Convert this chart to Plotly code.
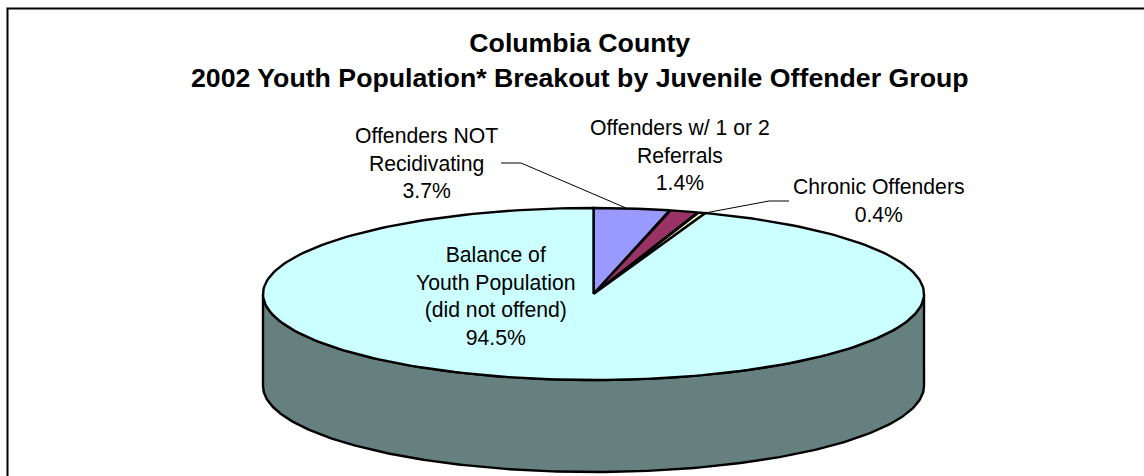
import numpy as np
import plotly.graph_objects as go

categories = ["Offenders NOT<br>Recidivating", "Offenders w/ 1 or 2<br>Referrals", "Chronic Offenders",
              "Balance of<br>Youth Population<br>(did not offend)"]
values = [3.7, 1.4, 0.4, 94.5]
colors = ["#9999FF", "#993366", "#FFFFCC", "#CCFFFF"]
wall_color = "#667F7F"
title_lines = ["Columbia County", "2002 Youth Population* Breakout by Juvenile Offender Group"]

CX, CY, RX, RY, DEPTH = 593.5, 294, 330.5, 86, 92
LW = 2.4
FONT = "Liberation Sans, Arial, sans-serif"


def rim(a0, a1, n=240):
    t = np.radians(np.linspace(a0, a1, n))
    return CX + RX * np.sin(t), CY - RY * np.cos(t)


fig = go.Figure()

# side wall (visible front half of the disc)
xf, yf = rim(90, 270)
fig.add_trace(go.Scatter(x=np.r_[xf, xf[::-1], xf[0]], y=np.r_[yf, yf[::-1] + DEPTH, yf[0]],
                         mode="lines", fill="toself", fillcolor=wall_color,
                         line=dict(color="black", width=LW), hoverinfo="skip", showlegend=False))

# top face slices, clockwise from 12 o'clock
total = sum(values)
start = 0.0
for cat, val, col in zip(categories, values, colors):
    end = start + val / total * 360
    xs, ys = rim(start, end)
    fig.add_trace(go.Scatter(x=np.r_[CX, xs, CX], y=np.r_[CY, ys, CY], mode="lines", fill="toself",
                             fillcolor=col, line=dict(color="black", width=LW),
                             name=cat.replace("<br>", " "), showlegend=False))
    start = end

# leader lines
fig.add_trace(go.Scatter(x=[501, 521, 626], y=[163, 163, 208], mode="lines",
                         line=dict(color="black", width=1), hoverinfo="skip", showlegend=False))
fig.add_trace(go.Scatter(x=[789, 769, 705], y=[201, 201, 213], mode="lines",
                         line=dict(color="black", width=1), hoverinfo="skip", showlegend=False))

# chart frame: only top and left edges are in view
fig.add_trace(go.Scatter(x=[7.5, 7.5, 1144], y=[476, 8.5, 8.5], mode="lines",
                         line=dict(color="black", width=2), hoverinfo="skip", showlegend=False))

label_pos = [(426, 163), (680, 155), (879, 200.5), (495, 295.5)]
annotations = []
for cat, val, (lx, ly) in zip(categories, values, label_pos):
    annotations.append(dict(x=lx, y=ly, xref="x", yref="y", text=f"{cat}<br>{val:.1f}%", showarrow=False,
                            align="center", xanchor="center", yanchor="middle",
                            font=dict(family=FONT, size=21.2, color="black")))
annotations.append(dict(x=580, y=60, xref="x", yref="y", text="<br>".join(f"<b>{t}</b>" for t in title_lines),
                        showarrow=False, align="center", xanchor="center", yanchor="middle",
                        font=dict(family=FONT, size=26.7, color="black")))

fig.update_layout(
    width=1144, height=476, margin=dict(l=0, r=0, t=0, b=0),
    paper_bgcolor="white", plot_bgcolor="white", annotations=annotations,
    xaxis=dict(range=[0, 1144], visible=False, fixedrange=True),
    yaxis=dict(range=[476, 0], visible=False, fixedrange=True),
)
fig.write_html("out.html", config={"displayModeBar": False},
               post_script="document.body.style.margin='0';document.body.style.overflow='hidden';")
